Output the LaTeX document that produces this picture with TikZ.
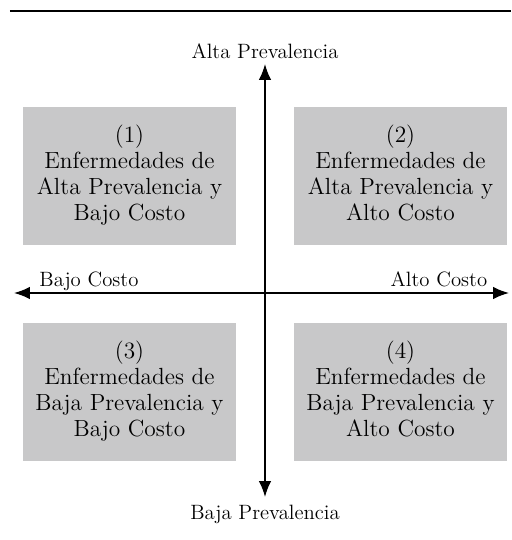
\documentclass[tikz,border=0pt]{standalone}
\usetikzlibrary{arrows.meta}
\definecolor{boxgray}{RGB}{200,200,201}
\tikzset{
	cuadro/.style={fill=boxgray, minimum width=4.26cm, minimum height=2.76cm, align=center, inner sep=0pt, font=\fontsize{13.3}{14.8}\selectfont},
	etiqueta/.style={anchor=base, inner sep=0pt, font=\fontsize{11.8}{14}\selectfont}
}
\begin{document}
\begin{tikzpicture}[thick, >={Latex[length=9pt,width=7pt]}]
		\useasboundingbox (-5.30,-4.94) rectangle (4.92,5.86);
		%top rule
		\coordinate (reglaI) at (-5.10,5.64);
		\coordinate (reglaD) at (4.92,5.64);
		\draw[line width=1.1pt] (reglaI) -- (reglaD);
		%quadrants
		\foreach \n/\x/\y/\txt in {1/-2.71/2.33/{Alta Prevalencia y\\Bajo Costo},
			2/2.71/2.33/{Alta Prevalencia y\\Alto Costo},
			3/-2.71/-1.98/{Baja Prevalencia y\\Bajo Costo},
			4/2.71/-1.98/{Baja Prevalencia y\\Alto Costo}}{
			\node[cuadro] (c\n) at (\x, \y) {\strut(\n)\\Enfermedades de\\\txt\strut};
		}
		%axes
		\coordinate (arriba) at (0, 4.58);
		\coordinate (abajo) at (0, -4.08);
		\coordinate (izq) at (-5.02, 0);
		\coordinate (der) at (4.88, 0);
		\draw[<->] (abajo) -- (arriba);
		\draw[<->] (izq) -- (der);
		%axis labels
		\node[etiqueta] (alta) at (0, 4.68) {Alta Prevalencia};
		\node[etiqueta] (baja) at (0, -4.52) {Baja Prevalencia};
		\node[etiqueta] (bajoC) at (-3.52, 0.12) {Bajo Costo};
		\node[etiqueta] (altoC) at (3.48, 0.12) {Alto Costo};
\end{tikzpicture}
\end{document}
